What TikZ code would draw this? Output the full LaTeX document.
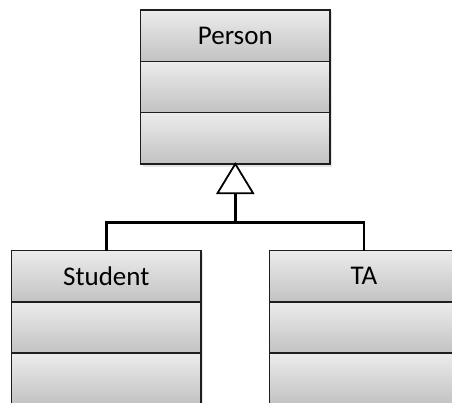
\documentclass[tikz,border=0pt]{standalone}
\usepackage{fontspec}
\setmainfont{Carlito}
\usetikzlibrary{positioning,calc,backgrounds}
\definecolor{boxtop}{RGB}{236,236,236}
\definecolor{boxbot}{RGB}{194,194,194}
\definecolor{boxline}{RGB}{30,30,30}
\begin{document}
\begin{tikzpicture}[x=1pt,y=-1pt,
  comp/.style={draw=boxline, line width=1.4pt, top color=boxtop, bottom color=boxbot,
    minimum width=189.3pt, minimum height=51.3pt, inner sep=0pt, outer sep=0pt,
    font=\fontsize{27}{31}\selectfont},
  conn/.style={draw=black, line width=2.6pt},
  gen/.style={draw=black, line width=1.8pt, fill=white, line join=miter},
  shade/.style={fill=black, opacity=0.10}]
\useasboundingbox (0,0) rectangle (452,403);
% Person class
\node[comp] (p1) at (235.3,35.65) {Person};
\node[comp, below=0pt of p1] (p2) {};
\node[comp, below=0pt of p2] (p3) {};
% Student class
\node[comp] (s1) at (106.3,276.2) {Student};
\node[comp, below=0pt of s1] (s2) {};
\node[comp, below=0pt of s2] (s3) {};
% TA class
\node[comp] (t1) at (364,276.2) {TA};
\node[comp, below=0pt of t1] (t2) {};
\node[comp, below=0pt of t2] (t3) {};
% soft shadows behind the classes
\begin{scope}[on background layer]
  \foreach \a/\b in {p1/p3, s1/s3, t1/t3} {
    \fill[shade] ($(\a.north west)+(2.5,2.5)$) rectangle ($(\b.south east)+(2.5,3)$);
  }
\end{scope}
% generalization tree
\coordinate (tribase) at ($(p3.south)+(0,29.3)$);
\coordinate (join) at (235.3,222.3);
\draw[conn] (tribase) -- (join);
\draw[conn, line join=miter] (s1.north) |- (join) -| (t1.north);
\draw[gen] (p3.south) -- ($(tribase)+(-17.8,0)$) -- ($(tribase)+(17.8,0)$) -- cycle;
\end{tikzpicture}
\end{document}
